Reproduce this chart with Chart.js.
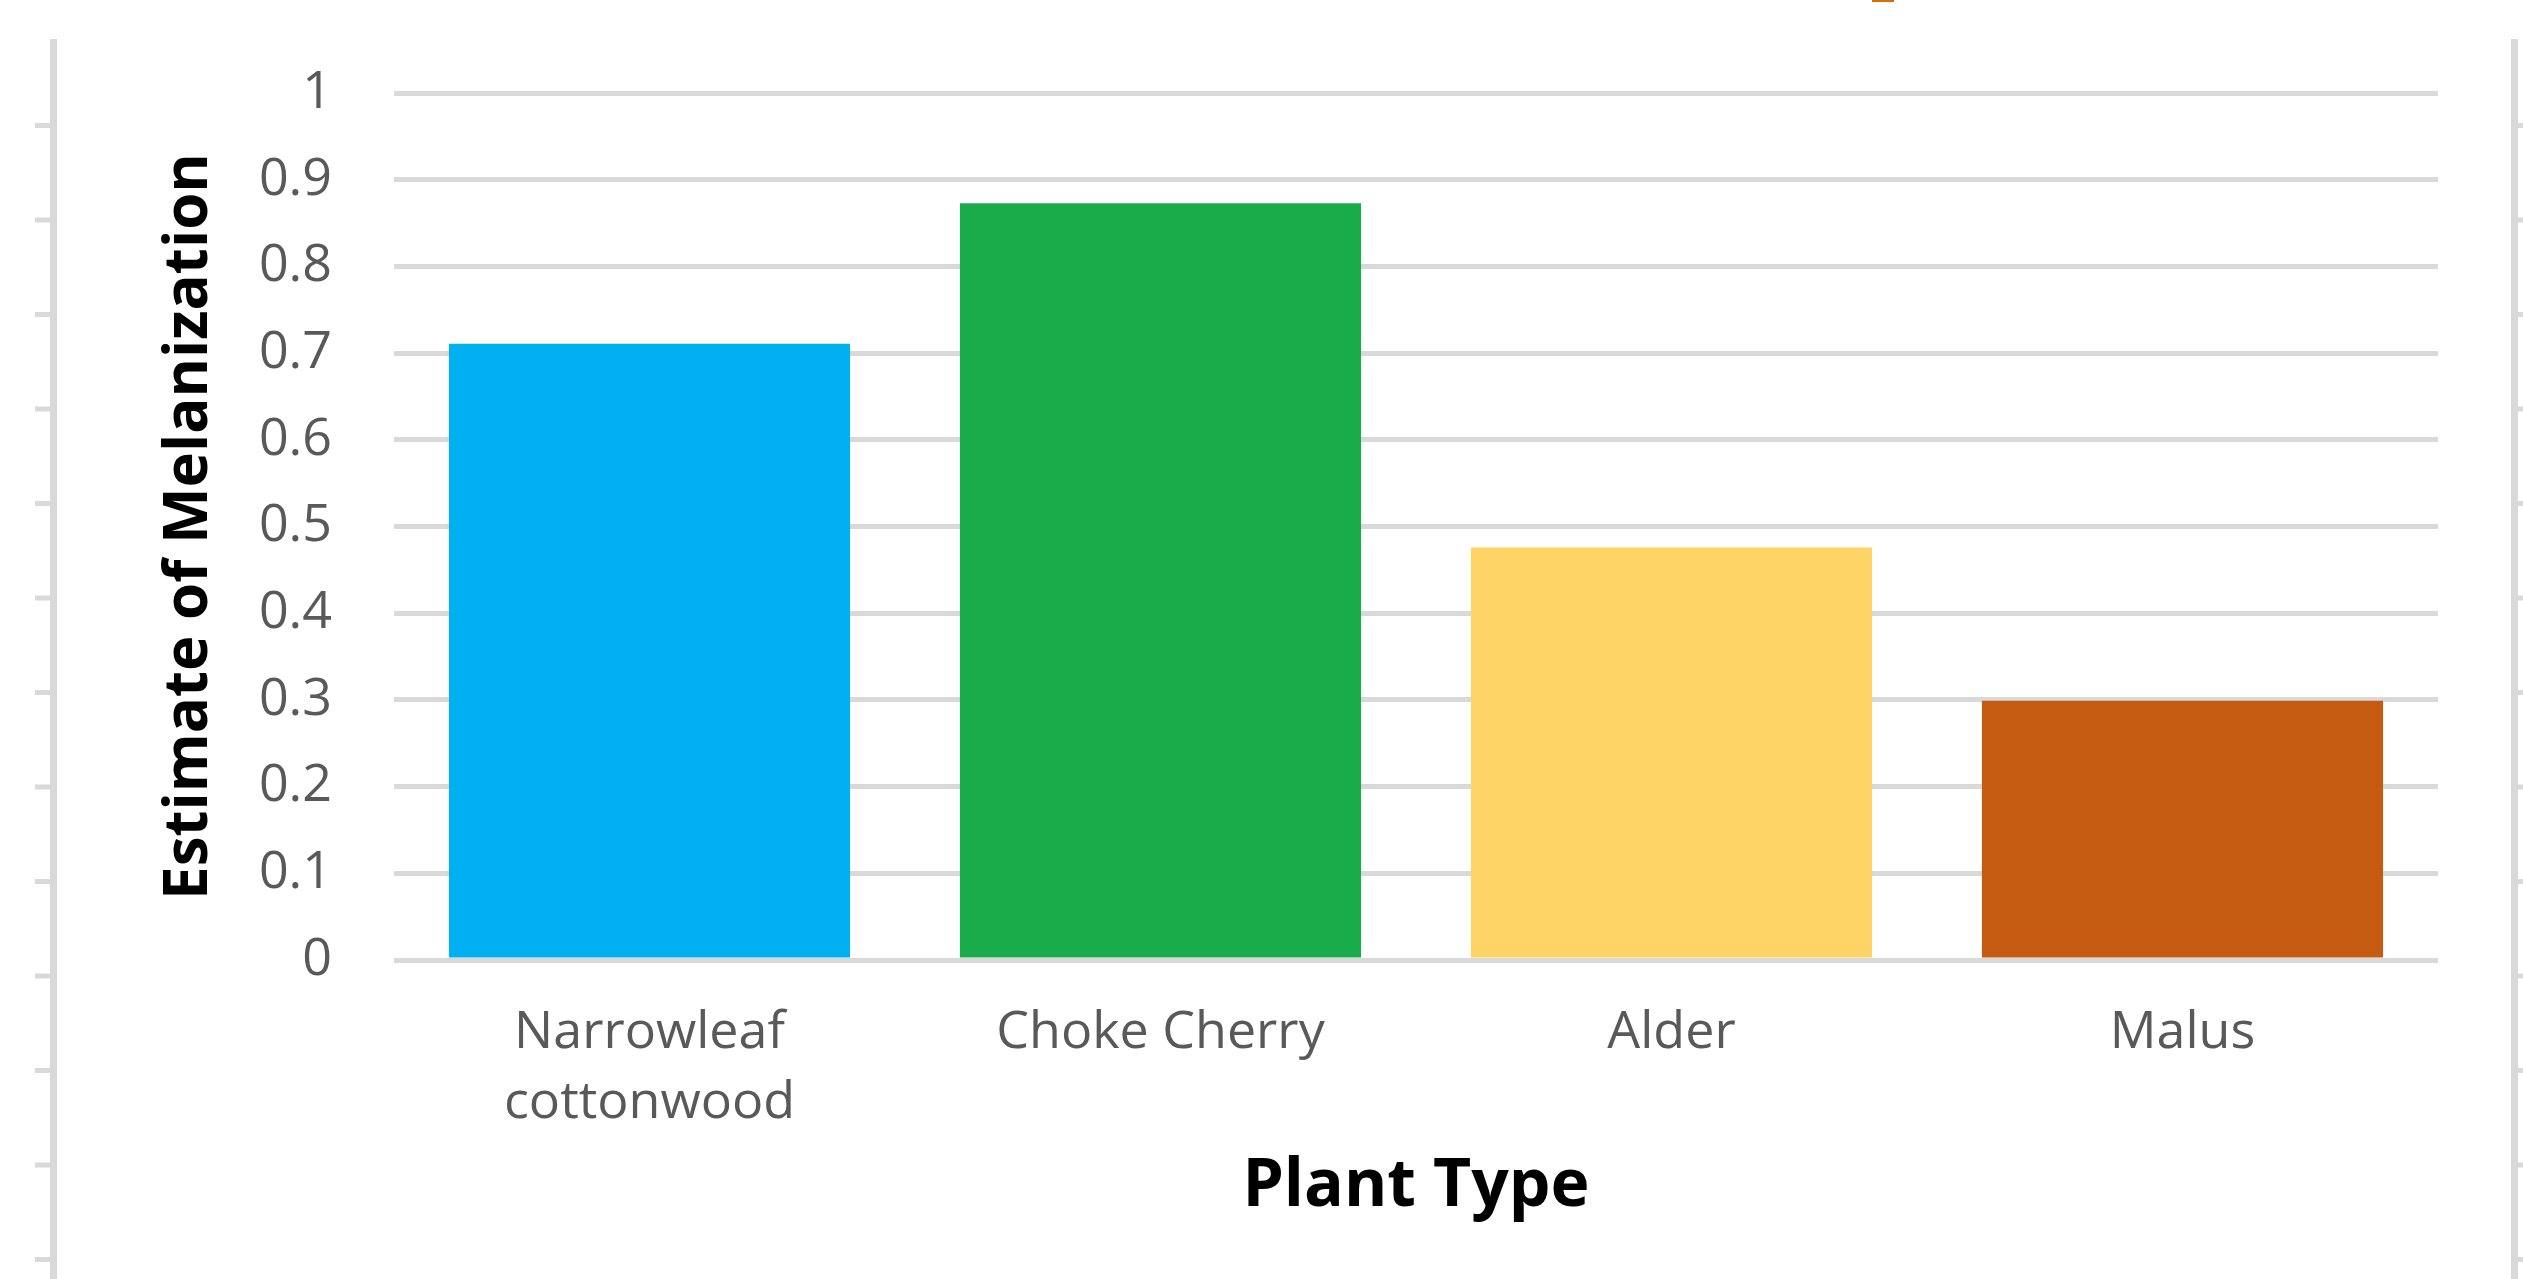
<!DOCTYPE html>
<html>
<head>
<meta charset="utf-8">
<script src="https://cdn.jsdelivr.net/npm/chart.js@4/dist/chart.umd.min.js"></script>
<style>
  html, body { margin: 0; padding: 0; background: #fff; }
  #chart { display: block; }
</style>
</head>
<body>
<canvas id="chart" width="2523" height="1279"></canvas>
<script>
// ── Data ──────────────────────────────────────────────────────
const plantTypes   = [['Narrowleaf', 'cottonwood'], 'Choke Cherry', 'Alder', 'Malus'];
const melanization = [0.711, 0.873, 0.476, 0.299];
const barColors    = ['#00b0f0', '#1aab4b', '#fdd465', '#c55a11'];
const yTickLabels  = ['0', '0.1', '0.2', '0.3', '0.4', '0.5', '0.6', '0.7', '0.8', '0.9', '1'];

const GRID = '#d9d9d9';

// Slide frame around the pasted chart (grey rulers + orange scrap at top)
const framePlugin = {
  id: 'frame',
  beforeDraw(chart) {
    const c = chart.ctx;
    c.save();
    c.fillStyle = '#fff';
    c.fillRect(0, 0, chart.width, chart.height);
    c.fillStyle = GRID;
    c.fillRect(50, 39, 7, chart.height - 39);
    c.fillRect(2511, 39, 7, chart.height - 39);
    for (let y = 125; y < chart.height; y += 94.5) {
      c.fillRect(35, y - 2, 15, 5);
      c.fillRect(2518, y - 2, 5, 5);
    }
    c.fillStyle = '#d46f0a';
    c.fillRect(1872, 0, 22, 2);
    c.restore();
  },
};

new Chart(document.getElementById('chart').getContext('2d'), {
  type: 'bar',
  data: {
    labels: plantTypes,
    datasets: [
      {
        label: 'Estimate of Melanization',
        data: melanization,
        backgroundColor: barColors,
        borderWidth: 0,
        barPercentage: 0.785,
        categoryPercentage: 1,
      },
    ],
  },
  options: {
    responsive: false,
    animation: false,
    devicePixelRatio: 1,
    layout: { padding: { top: 92, right: 85, bottom: 0, left: 0 } },
    plugins: {
      legend: { display: false },
      tooltip: { enabled: false },
    },
    scales: {
      x: {
        grid: { display: false },
        border: { display: false },
        ticks: {
          color: '#595959',
          font: { family: "'Open Sans', sans-serif", size: 52, lineHeight: 1.33 },
          padding: 31,
          maxRotation: 0,
          autoSkip: false,
        },
        title: {
          display: true,
          text: 'Plant Type',
          color: '#000',
          font: { family: "'Open Sans', sans-serif", size: 66, weight: 'bold', lineHeight: 1.2 },
          padding: { top: 0, bottom: 52 },
        },
        afterFit(scale) { scale.height = 319; },
      },
      y: {
        min: 0,
        max: 1,
        grid: { color: GRID, lineWidth: 5, drawTicks: false },
        border: { display: false },
        ticks: {
          stepSize: 0.1,
          color: '#595959',
          font: { family: "'Open Sans', sans-serif", size: 52 },
          padding: 62,
          callback: (v, i) => yTickLabels[i],
        },
        title: {
          display: true,
          text: 'Estimate of Melanization',
          color: '#000',
          font: { family: "'Open Sans', sans-serif", size: 60, weight: 'bold', lineHeight: 1.2 },
          padding: { top: 154, bottom: 0 },
        },
        afterFit(scale) { scale.width = 394; },
      },
    },
  },
  plugins: [framePlugin],
});
</script>
</body>
</html>
